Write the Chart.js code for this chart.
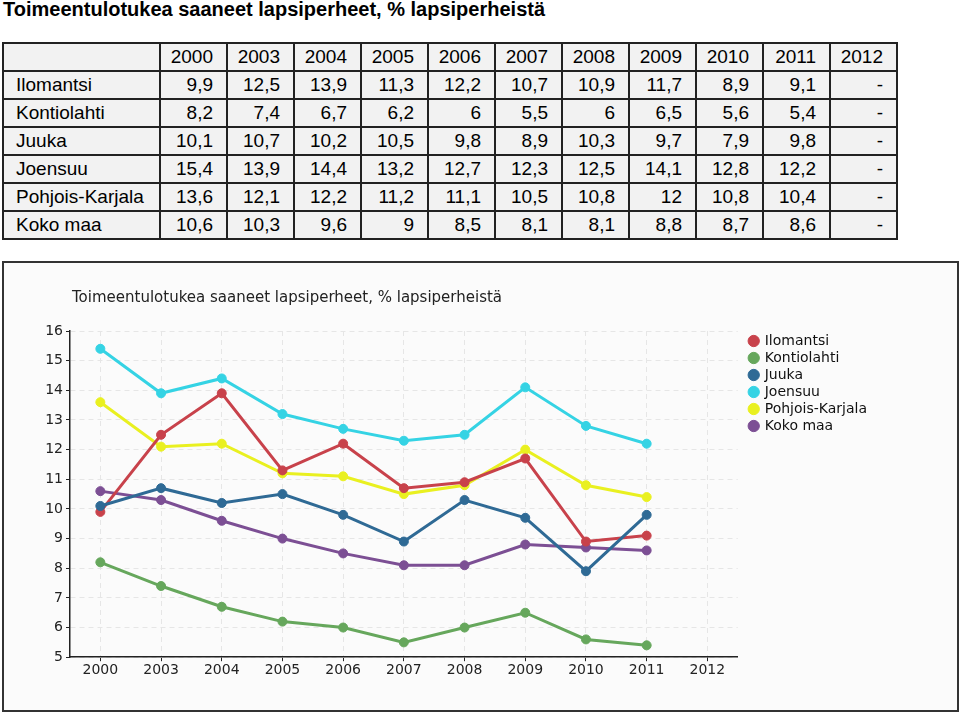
<!DOCTYPE html>
<html lang="fi">
<head>
  <meta charset="UTF-8" />
  <title>Toimeentulotukea saaneet lapsiperheet</title>
  <script src="https://cdn.jsdelivr.net/npm/chart.js"></script>
  <style>
    html, body { margin: 0; padding: 0; background: #fff; }
    body { width: 960px; height: 713px; position: relative; overflow: hidden; font-family: "Liberation Sans", Arial, sans-serif; }
    .page-title {
      position: absolute; left: 3px; top: -2px;
      font-weight: bold; font-size: 20px; color: #000;
    }
    table.data {
      position: absolute; left: 2px; top: 42px;
      border-collapse: collapse;
      font-size: 19px; color: #000;
    }
    table.data td {
      border: 2px solid #222;
      background: #f2f2f2;
      height: 26px;
      padding: 0 13px 0 0;
      text-align: right;
      width: 52px;
      line-height: 26px;
    }
    table.data td.name { text-align: left; padding: 0 0 0 12px; width: 143px; }
    .chart-box {
      position: absolute; left: 2px; top: 261px;
      width: 953px; height: 447px;
      border: 2px solid #333;
      background: #fbfbfb;
    }
  </style>
</head>
<body>

<div class="page-title">Toimeentulotukea saaneet lapsiperheet, % lapsiperheistä</div>

<table class="data" id="dataTable"></table>

<div class="chart-box">
  <canvas id="lineChart" width="953" height="447"></canvas>
</div>

<script>
  const years = ['2000', '2003', '2004', '2005', '2006', '2007', '2008', '2009', '2010', '2011', '2012'];
  const ilomantsi = [9.9, 12.5, 13.9, 11.3, 12.2, 10.7, 10.9, 11.7, 8.9, 9.1, null];
  const kontiolahti = [8.2, 7.4, 6.7, 6.2, 6, 5.5, 6, 6.5, 5.6, 5.4, null];
  const juuka = [10.1, 10.7, 10.2, 10.5, 9.8, 8.9, 10.3, 9.7, 7.9, 9.8, null];
  const joensuu = [15.4, 13.9, 14.4, 13.2, 12.7, 12.3, 12.5, 14.1, 12.8, 12.2, null];
  const pohjoisKarjala = [13.6, 12.1, 12.2, 11.2, 11.1, 10.5, 10.8, 12, 10.8, 10.4, null];
  const kokoMaa = [10.6, 10.3, 9.6, 9, 8.5, 8.1, 8.1, 8.8, 8.7, 8.6, null];

  const chartTitle = 'Toimeentulotukea saaneet lapsiperheet, % lapsiperheistä';
  const yMin = 5;
  const yMax = 16;

  const series = [
    { name: 'Ilomantsi', values: ilomantsi, color: '#c8424b', order: 1 },
    { name: 'Kontiolahti', values: kontiolahti, color: '#66a75c', order: 5 },
    { name: 'Juuka', values: juuka, color: '#2f6a95', order: 0 },
    { name: 'Joensuu', values: joensuu, color: '#35d3e4', order: 4 },
    { name: 'Pohjois-Karjala', values: pohjoisKarjala, color: '#e9f020', order: 3 },
    { name: 'Koko maa', values: kokoMaa, color: '#7c4f94', order: 2 }
  ];

  // taulukko samoista luvuista
  const fmt = v => v === null ? '-' : String(v).replace('.', ',');
  const table = document.getElementById('dataTable');
  let html = '<tr><td class="name"></td>' + years.map(y => '<td>' + y + '</td>').join('') + '</tr>';
  series.forEach(s => {
    html += '<tr><td class="name">' + s.name + '</td>' + s.values.map(v => '<td>' + fmt(v) + '</td>').join('') + '</tr>';
  });
  table.innerHTML = html;

  // otsikko alkaa y-akselin kohdalta
  const titleShift = {
    id: 'titleShift',
    afterLayout(chart) {
      if (chart.titleBlock) chart.titleBlock.left = chart.chartArea.left + 2;
    }
  };

  new Chart(document.getElementById('lineChart'), {
    type: 'line',
    data: {
      labels: years,
      datasets: series.map(s => ({
        label: s.name,
        data: s.values,
        borderColor: s.color,
        backgroundColor: s.color,
        pointBackgroundColor: s.color,
        pointBorderColor: s.color,
        borderWidth: 3,
        pointRadius: 4.5,
        pointBorderWidth: 1,
        tension: 0,
        order: s.order
      }))
    },
    plugins: [titleShift],
    options: {
      responsive: false,
      animation: false,
      layout: { padding: { left: 0, right: 80, top: 0, bottom: 30 } },
      plugins: {
        title: {
          display: true,
          text: chartTitle,
          align: 'start',
          color: '#222',
          font: { family: 'DejaVu Sans', size: 15, weight: 'normal' },
          padding: { top: 26, bottom: 24 }
        },
        legend: {
          position: 'right',
          align: 'start',
          fullSize: false,
          labels: {
            usePointStyle: true,
            pointStyle: 'circle',
            boxWidth: 8,
            boxHeight: 8,
            padding: 3,
            color: '#111',
            font: { family: 'DejaVu Sans', size: 14 },
            sort: (a, b) => a.datasetIndex - b.datasetIndex
          }
        },
        tooltip: { enabled: false }
      },
      scales: {
        x: {
          offset: true,
          grid: {
            offset: false,
            color: '#e6e6e6',
            tickColor: '#222',
            tickLength: 4,
            tickBorderDash: []
          },
          border: { color: '#222', width: 1.5, dash: [5, 4] },
          ticks: { color: '#222', padding: 1, font: { family: 'DejaVu Sans', size: 14 } }
        },
        y: {
          min: yMin,
          max: yMax,
          afterFit: s => { s.width = 66; },
          grid: {
            color: '#e6e6e6',
            tickColor: '#222',
            tickLength: 4,
            tickBorderDash: []
          },
          border: { color: '#222', width: 1.5, dash: [5, 4] },
          ticks: { stepSize: 1, color: '#222', padding: 3, font: { family: 'DejaVu Sans', size: 14 } }
        },
        spacer: {
          type: 'linear',
          position: 'right',
          display: true,
          afterFit: s => { s.width = 9; },
          grid: { display: false, drawTicks: false },
          border: { display: false },
          ticks: { display: false }
        }
      }
    }
  });
</script>

</body>
</html>
